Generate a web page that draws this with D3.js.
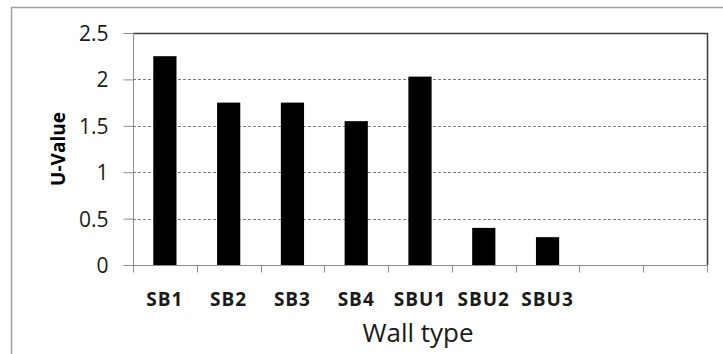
<!DOCTYPE html>
<html>
<head>
<meta charset="utf-8">
<script src="https://cdn.jsdelivr.net/npm/d3@7"></script>
<style>
  html, body { margin: 0; padding: 0; background: #fff; }
  svg { display: block; }
  text { font-family: "Open Sans", "Noto Sans", "DejaVu Sans", sans-serif; }
</style>
</head>
<body>
<svg id="chart" width="723" height="354"></svg>
<script>
// Wall types (two trailing empty slots on the category axis)
const categories = ["SB1", "SB2", "SB3", "SB4", "SBU1", "SBU2", "SBU3", "", " "];
const uValues = [2.25, 1.75, 1.75, 1.55, 2.03, 0.40, 0.30, null, null];
const yTicks = [0, 0.5, 1, 1.5, 2, 2.5];

const svg = d3.select("#chart");
const W = 723, H = 354;
const plot = { left: 133, top: 33, right: 707, bottom: 265 };

// Chart frame
svg.append("rect")
  .attr("x", 11.5).attr("y", 7.5)
  .attr("width", W + 20).attr("height", H + 20)
  .attr("fill", "#fff").attr("stroke", "#a0a0a0").attr("stroke-width", 1.5);

const x = d3.scaleBand()
  .domain(categories)
  .range([plot.left, plot.right])
  .paddingInner(0.636).paddingOuter(0.318);

const xSlots = d3.scaleBand().domain(categories).range([plot.left, plot.right]).padding(0);

const y = d3.scaleLinear().domain([0, 2.5]).range([plot.bottom, plot.top]);

// Dashed gridlines
svg.append("g")
  .selectAll("line")
  .data(yTicks.filter(t => t > 0 && t < 2.5))
  .join("line")
  .attr("x1", plot.left).attr("x2", plot.right)
  .attr("y1", d => Math.round(y(d)) + 0.5).attr("y2", d => Math.round(y(d)) + 0.5)
  .attr("stroke", "#7a7a7a").attr("stroke-width", 1)
  .attr("stroke-dasharray", "3,2");

// Bars
svg.append("g")
  .selectAll("rect")
  .data(categories.map((c, i) => ({ c, v: uValues[i] })).filter(d => d.v != null))
  .join("rect")
  .attr("x", d => x(d.c))
  .attr("width", x.bandwidth())
  .attr("y", d => y(d.v))
  .attr("height", d => y(0) - y(d.v))
  .attr("fill", "#000");

// Plot area border (top and right)
svg.append("path")
  .attr("d", `M${plot.left},${plot.top + 0.5}H${plot.right + 0.5}V${plot.bottom}`)
  .attr("fill", "none").attr("stroke", "#3a3a3a").attr("stroke-width", 1.5);

// Y axis
const yAxis = svg.append("g")
  .attr("transform", `translate(${plot.left + 0.5},0)`)
  .call(d3.axisLeft(y).tickValues(yTicks).tickSize(10).tickPadding(15).tickFormat(d3.format("")));
yAxis.select(".domain").attr("stroke", "#8c8c8c").attr("d", `M0,${plot.top}V${plot.bottom}`);
yAxis.selectAll(".tick line").attr("stroke", "#8c8c8c");
yAxis.selectAll(".tick text")
  .attr("fill", "#1a1a1a").attr("dy", "0.36em")
  .style("font-size", "21px").style("font-family", "'Open Sans', sans-serif");

// X axis: tick marks on slot boundaries
const xAxisG = svg.append("g").attr("transform", `translate(0,${plot.bottom + 0.5})`);
xAxisG.append("line")
  .attr("x1", plot.left).attr("x2", plot.right)
  .attr("stroke", "#8c8c8c");
xAxisG.selectAll("line.tk")
  .data(categories.map(c => xSlots(c)).concat([plot.right]))
  .join("line").attr("class", "tk")
  .attr("x1", d => Math.round(d) + 0.5).attr("x2", d => Math.round(d) + 0.5)
  .attr("y1", 0).attr("y2", 7)
  .attr("stroke", "#8c8c8c");
xAxisG.selectAll("text")
  .data(categories.filter(c => c.trim() !== ""))
  .join("text")
  .attr("x", d => xSlots(d) + xSlots.bandwidth() / 2)
  .attr("y", 40)
  .attr("text-anchor", "middle")
  .attr("fill", "#1a1a1a")
  .style("font-size", "19px").style("font-weight", "bold").style("letter-spacing", "1px")
  .text(d => d);

// Axis titles
svg.append("text")
  .attr("transform", `translate(65,${(plot.top + plot.bottom) / 2}) rotate(-90)`)
  .attr("text-anchor", "middle")
  .attr("fill", "#000")
  .style("font-size", "19px").style("font-weight", "bold")
  .text("U-Value");

svg.append("text")
  .attr("x", 418).attr("y", 342)
  .attr("text-anchor", "middle")
  .attr("fill", "#1a1a1a")
  .style("font-size", "26px")
  .text("Wall type");
</script>
</body>
</html>
